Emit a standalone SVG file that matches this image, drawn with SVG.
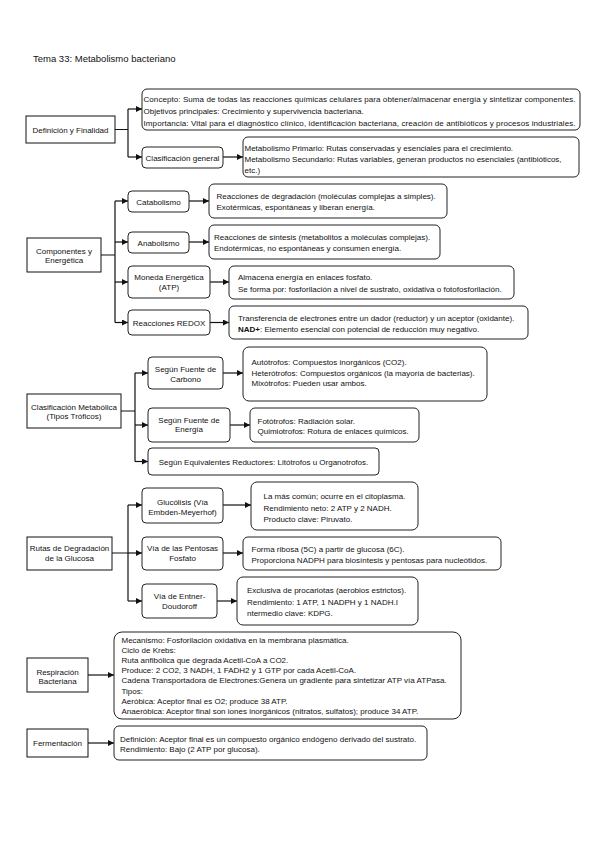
<svg xmlns="http://www.w3.org/2000/svg" width="599" height="848" viewBox="0 0 599 848">
<style>
text{font-family:"Liberation Sans",Arial,sans-serif;font-size:8px;fill:#111}
.t{font-size:9.5px}
.c{text-anchor:middle}
.sq{fill:#fff;stroke:#111;stroke-width:1}
.rd{fill:#fff;stroke:#222;stroke-width:1}
.ln{fill:none;stroke:#111;stroke-width:1.2}
.b{font-weight:bold}
</style>
<defs>
<marker id="ah" markerUnits="userSpaceOnUse" markerWidth="8" markerHeight="8" refX="6" refY="3" orient="auto">
<path d="M0,0 L6,3 L0,6 Z" fill="#111"/>
</marker>
</defs>
<rect width="599" height="848" fill="#fff"/>
<text class="t" x="33" y="62">Tema 33: Metabolismo bacteriano</text>

<g id="connectors" class="ln">
<path d="M115,129.5 H128 M128,109 V157"/>
<path d="M128,109 H142" marker-end="url(#ah)"/>
<path d="M128,157 H142" marker-end="url(#ah)"/>
<path d="M223,157 H243" marker-end="url(#ah)"/>

<path d="M101,255 H115 M115,201 V322.5"/>
<path d="M115,201 H128" marker-end="url(#ah)"/>
<path d="M115,242 H128" marker-end="url(#ah)"/>
<path d="M115,282 H128" marker-end="url(#ah)"/>
<path d="M115,322.5 H128" marker-end="url(#ah)"/>
<path d="M189,201 H209" marker-end="url(#ah)"/>
<path d="M189,242 H209" marker-end="url(#ah)"/>
<path d="M210,282 H229" marker-end="url(#ah)"/>
<path d="M210,322.5 H229" marker-end="url(#ah)"/>

<path d="M121,411 H135 M135,373 V461.5"/>
<path d="M135,373 H148" marker-end="url(#ah)"/>
<path d="M135,425 H148" marker-end="url(#ah)"/>
<path d="M135,461.5 H148" marker-end="url(#ah)"/>
<path d="M223,373 H243" marker-end="url(#ah)"/>
<path d="M230,425 H250" marker-end="url(#ah)"/>

<path d="M112,553 H128 M128,505 V601"/>
<path d="M128,505 H142" marker-end="url(#ah)"/>
<path d="M128,553 H142" marker-end="url(#ah)"/>
<path d="M128,601 H142" marker-end="url(#ah)"/>
<path d="M223,505 H251" marker-end="url(#ah)"/>
<path d="M223,553 H243" marker-end="url(#ah)"/>
<path d="M217,601 H237" marker-end="url(#ah)"/>

<path d="M88,675 H114" marker-end="url(#ah)"/>
<path d="M88,743 H114" marker-end="url(#ah)"/>
</g>

<g id="definicion">
<rect class="sq" x="26" y="116" width="89" height="27"/>
<text class="c" x="70.5" y="132.5">Definición y Finalidad</text>
</g>
<g id="concepto">
<rect class="rd" x="142" y="89" width="438" height="41" rx="5"/>
<text x="143.5" y="102" textLength="432" lengthAdjust="spacing">Concepto: Suma de todas las reacciones químicas celulares para obtener/almacenar energía y sintetizar componentes.</text>
<text x="143.5" y="114">Objetivos principales: Crecimiento y supervivencia bacteriana.</text>
<text x="143.5" y="126" textLength="432" lengthAdjust="spacing">Importancia: Vital para el diagnóstico clínico, identificación bacteriana, creación de antibióticos y procesos industriales.</text>
</g>
<g id="clasificacion-general">
<rect class="rd" x="142" y="147" width="81" height="21" rx="4"/>
<text class="c" x="182.5" y="160.5">Clasificación general</text>
</g>
<g id="metabolismo-tipos">
<rect class="rd" x="243" y="137" width="336" height="40" rx="5"/>
<text x="244.5" y="151">Metabolismo Primario: Rutas conservadas y esenciales para el crecimiento.</text>
<text x="244.5" y="162">Metabolismo Secundario: Rutas variables, generan productos no esenciales (antibióticos,</text>
<text x="244.5" y="173">etc.)</text>
</g>

<g id="componentes">
<rect class="sq" x="27" y="238" width="74" height="34"/>
<text class="c" x="64" y="254">Componentes y</text>
<text class="c" x="64" y="263">Energética</text>
</g>
<g id="catabolismo">
<rect class="rd" x="128" y="191" width="61" height="21" rx="4"/>
<text class="c" x="158.5" y="204.5">Catabolismo</text>
</g>
<g id="catabolismo-desc">
<rect class="rd" x="209" y="184" width="238" height="34" rx="5"/>
<text x="216.5" y="199">Reacciones de degradación (moléculas complejas a simples).</text>
<text x="216.5" y="210">Exotérmicas, espontáneas y liberan energía.</text>
</g>
<g id="anabolismo">
<rect class="rd" x="128" y="232" width="61" height="21" rx="4"/>
<text class="c" x="158.5" y="245.5">Anabolismo</text>
</g>
<g id="anabolismo-desc">
<rect class="rd" x="209" y="225" width="231" height="34" rx="5"/>
<text x="214" y="240">Reacciones de síntesis (metabolitos a moléculas complejas).</text>
<text x="214" y="251">Endotérmicas, no espontáneas y consumen energía.</text>
</g>
<g id="moneda">
<rect class="rd" x="128" y="266" width="82" height="32" rx="4"/>
<text class="c" x="169" y="280">Moneda Energética</text>
<text class="c" x="169" y="290">(ATP)</text>
</g>
<g id="moneda-desc">
<rect class="rd" x="229" y="266" width="285" height="33" rx="5"/>
<text x="238" y="280">Almacena energía en enlaces fosfato.</text>
<text x="238" y="292">Se forma por: fosforilación a nivel de sustrato, oxidativa o fotofosforilación.</text>
</g>
<g id="redox">
<rect class="rd" x="128" y="310" width="82" height="25" rx="4"/>
<text class="c" x="169" y="325.5">Reacciones REDOX</text>
</g>
<g id="redox-desc">
<rect class="rd" x="229" y="306" width="299" height="33" rx="5"/>
<text x="238" y="321">Transferencia de electrones entre un dador (reductor) y un aceptor (oxidante).</text>
<text x="238" y="332"><tspan class="b">NAD+</tspan>: Elemento esencial con potencial de reducción muy negativo.</text>
</g>

<g id="clasificacion-metabolica">
<rect class="sq" x="27" y="394" width="94" height="34"/>
<text class="c" x="74" y="410">Clasificación Metabólica</text>
<text class="c" x="74" y="419">(Tipos Tróficos)</text>
</g>
<g id="fuente-carbono">
<rect class="rd" x="148" y="357" width="75" height="32" rx="4"/>
<text class="c" x="185.5" y="372">Según Fuente de</text>
<text class="c" x="185.5" y="382">Carbono</text>
</g>
<g id="carbono-desc">
<rect class="rd" x="243" y="347" width="244" height="54" rx="6"/>
<text x="251.5" y="365">Autótrofos: Compuestos inorgánicos (CO2).</text>
<text x="251.5" y="376">Heterótrofos: Compuestos orgánicos (la mayoría de bacterias).</text>
<text x="251.5" y="386">Mixótrofos: Pueden usar ambos.</text>
</g>
<g id="fuente-energia">
<rect class="rd" x="148" y="408" width="82" height="34" rx="4"/>
<text class="c" x="189" y="423">Según Fuente de</text>
<text class="c" x="189" y="432">Energía</text>
</g>
<g id="energia-desc">
<rect class="rd" x="250" y="408" width="169" height="34" rx="5"/>
<text x="257.5" y="424">Fotótrofos: Radiación solar.</text>
<text x="257.5" y="434">Quimiotrofos: Rotura de enlaces químicos.</text>
</g>
<g id="equivalentes">
<rect class="rd" x="148" y="448" width="231" height="27" rx="4"/>
<text class="c" x="263.5" y="464.7">Según Equivalentes Reductores: Litótrofos u Organotrofos.</text>
</g>

<g id="rutas">
<rect class="sq" x="27" y="537" width="85" height="33"/>
<text class="c" x="69.5" y="551">Rutas de Degradación</text>
<text class="c" x="69.5" y="561">de la Glucosa</text>
</g>
<g id="glucolisis">
<rect class="rd" x="142" y="488" width="81" height="35" rx="4"/>
<text class="c" x="182.5" y="505">Glucólisis (Vía</text>
<text class="c" x="182.5" y="515">Embden-Meyerhof)</text>
</g>
<g id="glucolisis-desc">
<rect class="rd" x="251" y="482" width="167" height="48" rx="6"/>
<text x="263.5" y="499">La más común; ocurre en el citoplasma.</text>
<text x="263.5" y="511">Rendimiento neto: 2 ATP y 2 NADH.</text>
<text x="263.5" y="522">Producto clave: Piruvato.</text>
</g>
<g id="pentosas">
<rect class="rd" x="142" y="537" width="81" height="33" rx="4"/>
<text class="c" x="182.5" y="551">Vía de las Pentosas</text>
<text class="c" x="182.5" y="561">Fosfato</text>
</g>
<g id="pentosas-desc">
<rect class="rd" x="243" y="537" width="258" height="33" rx="5"/>
<text x="251.5" y="552">Forma ribosa (5C) a partir de glucosa (6C).</text>
<text x="251.5" y="563">Proporciona NADPH para biosíntesis y pentosas para nucleótidos.</text>
</g>
<g id="entner">
<rect class="rd" x="142" y="584" width="75" height="34" rx="4"/>
<text class="c" x="179.5" y="599">Vía de Entner-</text>
<text class="c" x="179.5" y="609">Doudoroff</text>
</g>
<g id="entner-desc">
<rect class="rd" x="237" y="577" width="181" height="48" rx="6"/>
<text x="247" y="593">Exclusiva de procariotas (aerobios estrictos).</text>
<text x="247" y="605">Rendimiento: 1 ATP, 1 NADPH y 1 NADH.I</text>
<text x="247" y="616">ntermedio clave: KDPG.</text>
</g>

<g id="respiracion">
<rect class="sq" x="27" y="658" width="61" height="34"/>
<text class="c" x="57.5" y="675">Respiración</text>
<text class="c" x="57.5" y="684">Bacteriana</text>
</g>
<g id="respiracion-desc">
<rect class="rd" x="114" y="632" width="347" height="87" rx="8"/>
<text x="121.5" y="642.5">Mecanismo: Fosforilación oxidativa en la membrana plasmática.</text>
<text x="121.5" y="652.7">Ciclo de Krebs:</text>
<text x="121.5" y="662.9">Ruta anfibólica que degrada Acetil-CoA a CO2.</text>
<text x="121.5" y="673.1">Produce: 2 CO2, 3 NADH, 1 FADH2 y 1 GTP por cada Acetil-CoA.</text>
<text x="121.5" y="683.3">Cadena Transportadora de Electrones:Genera un gradiente para sintetizar ATP vía ATPasa.</text>
<text x="121.5" y="693.5">Tipos:</text>
<text x="121.5" y="703.7">Aeróbica: Aceptor final es O2; produce 38 ATP.</text>
<text x="121.5" y="713.9">Anaeróbica: Aceptor final son iones inorgánicos (nitratos, sulfatos); produce 34 ATP.</text>
</g>

<g id="fermentacion">
<rect class="sq" x="27" y="729" width="61" height="28"/>
<text class="c" x="57.5" y="746">Fermentación</text>
</g>
<g id="fermentacion-desc">
<rect class="rd" x="114" y="726" width="313" height="34" rx="5"/>
<text x="120" y="742">Definición: Aceptor final es un compuesto orgánico endógeno derivado del sustrato.</text>
<text x="120" y="752">Rendimiento: Bajo (2 ATP por glucosa).</text>
</g>
</svg>
